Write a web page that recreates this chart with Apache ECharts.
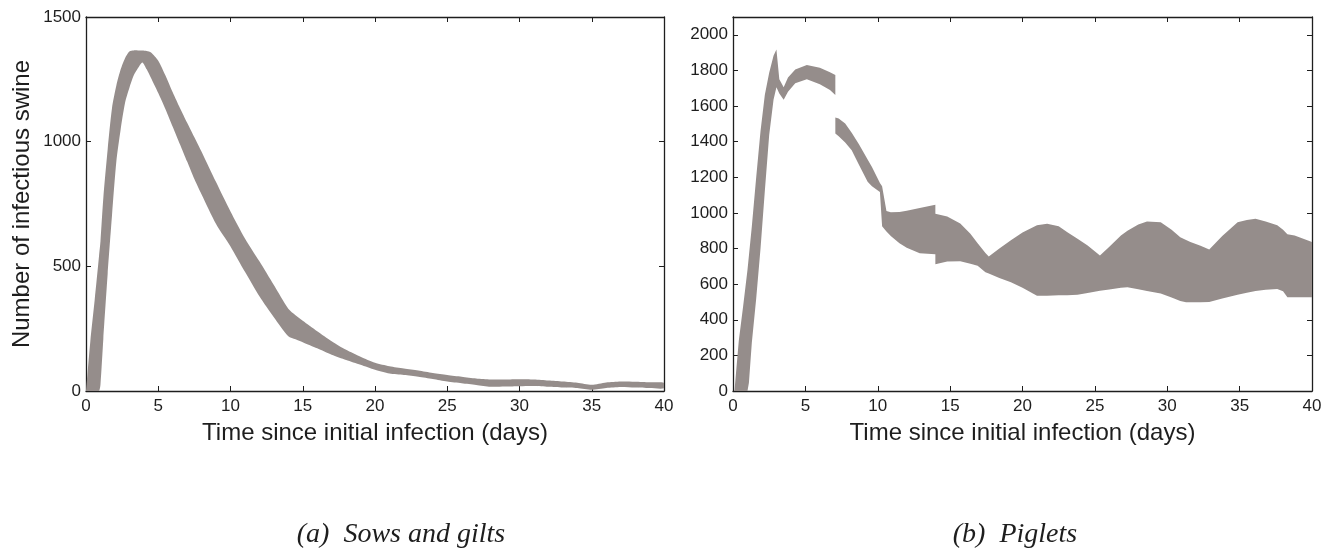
<!DOCTYPE html>
<html>
<head>
<meta charset="utf-8">
<script src="https://cdn.jsdelivr.net/npm/echarts@6/dist/echarts.min.js"></script>
<style>
  html, body { margin: 0; padding: 0; background: #fff; }
  #chart { width: 1330px; height: 551px; }
</style>
</head>
<body>
<div id="chart"></div>
<script>
// Sows and gilts: time (days) with the lower and upper envelope of infectious counts
const sowsDays  = [0, 0.3, 0.6, 0.9, 1.0, 1.2, 1.5, 1.8, 2.1, 2.4, 2.7, 3.0, 3.3, 3.6, 3.9, 4.2, 4.5, 5.0, 5.5, 6.0, 6.5, 7.0, 7.5, 8.0, 9.0, 10, 11, 12, 13, 14, 14.5, 15, 16, 17, 18, 19, 20, 21, 22, 23, 24, 25, 26, 27, 28, 29, 30, 31, 32, 33, 34, 35, 36, 37, 38, 39, 40];
const sowsLow   = [0, 0, 0, 0, 25, 210, 470, 705, 920, 1050, 1155, 1215, 1265, 1295, 1318, 1290, 1255, 1195, 1130, 1060, 990, 920, 850, 788, 670, 580, 478, 380, 296, 220, 208, 196, 171, 145, 124, 105, 85, 70, 64, 57, 48, 38, 31, 24, 17, 18, 19, 20, 17, 14, 12, 5, 12, 16, 14, 12, 11];
const sowsHigh  = [0, 200, 365, 540, 600, 775, 970, 1135, 1225, 1290, 1335, 1362, 1366, 1366, 1366, 1364, 1358, 1325, 1265, 1198, 1135, 1076, 1018, 960, 838, 720, 612, 520, 425, 330, 304, 282, 240, 200, 165, 137, 113, 99, 90, 82, 72, 64, 57, 50, 46, 46, 47, 46, 42, 38, 33, 25, 34, 38, 37, 35, 33];

// Piglets: repeated days mark the jumps at weaning
const pigDays   = [0, 0.1, 0.4, 0.7, 1.0, 1.1, 1.3, 1.6, 1.9, 2.2, 2.5, 2.8, 3.0, 3.2, 3.5, 3.8, 4.3, 5.1, 6.0, 6.7, 7.07, 7.07, 7.3, 7.75, 8.2, 8.7, 9.3, 9.6, 10.15, 10.3, 10.6, 10.9, 11.5, 12.0, 12.9, 13.98, 13.98, 14.8, 15.7, 16.4, 16.9, 17.44, 17.67, 18.4, 19.2, 20.0, 21.0, 21.7, 22.5, 23.1, 23.8, 24.5, 25.35, 26.0, 26.8, 27.25, 28.0, 28.6, 29.55, 30.3, 30.9, 31.3, 31.6, 32.3, 32.9, 33.8, 34.86, 35.5, 36.1, 36.8, 37.6, 38.0, 38.3, 38.8, 39.4, 40];
const pigLow    = [0, 0, 0, 0, 0, 46, 271, 516, 799, 1125, 1437, 1636, 1705, 1670, 1636, 1680, 1728, 1750, 1722, 1690, 1662, 1446, 1430, 1395, 1352, 1270, 1175, 1150, 1117, 925, 895, 870, 830, 805, 774, 768, 712, 727, 729, 714, 703, 667, 660, 635, 610, 580, 535, 535, 537, 538, 541, 550, 563, 570, 580, 582, 572, 562, 548, 525, 505, 498, 498, 498, 500, 520, 541, 552, 562, 568, 573, 560, 526, 526, 526, 526];
const pigHigh   = [0, 0, 282, 476, 679, 761, 924, 1197, 1459, 1664, 1787, 1883, 1918, 1750, 1705, 1760, 1805, 1831, 1815, 1790, 1775, 1536, 1530, 1502, 1450, 1386, 1300, 1258, 1168, 1150, 1010, 1003, 1005, 1012, 1028, 1046, 995, 980, 940, 883, 830, 775, 755, 800, 847, 890, 930, 939, 925, 892, 855, 817, 761, 810, 873, 900, 935, 952, 948, 905, 864, 848, 836, 815, 794, 870, 948, 960, 967, 952, 930, 905, 880, 873, 855, 836];

const xTicks = { min: 0, max: 40, interval: 5 };
const sowsY = { min: 0, max: 1500, interval: 500 };
const pigY = { min: 0, max: 2100, interval: 200 };

const xTitle = 'Time since initial infection (days)';
const yTitle = 'Number of infectious swine';
const captionA = '(a)  Sows and gilts';
const captionB = '(b)  Piglets';

const bandColor = '#958d8b';
const ink = '#1e1e1e';
const sans = 'Liberation Sans, Arial, sans-serif';

function rows(days, low, high) {
  return days.map((d, i) => [d, low[i], high[i]]);
}

// Draw the whole envelope as one polygon: upper edge forward, lower edge back
function bandRenderer(smooth) {
  return function (params, api) {
    if (params.dataIndexInside !== 0) return null;
    const n = params.dataInsideLength;
    const top = [], bottom = [];
    for (let i = 0; i < n; i++) {
      const x = api.value(0, i);
      top.push(api.coord([x, api.value(2, i)]));
      bottom.push(api.coord([x, api.value(1, i)]));
    }
    const points = top.concat(bottom.reverse());
    return {
      type: 'polygon',
      shape: { points: points, smooth: smooth },
      style: { fill: bandColor, stroke: null }
    };
  };
}

function frameAxis(extra) {
  return Object.assign({
    type: 'value',
    axisLine: { show: true, onZero: false, lineStyle: { color: ink, width: 1.3 } },
    axisTick: { show: true, inside: true, length: 5, lineStyle: { color: ink, width: 1 } },
    splitLine: { show: false }
  }, extra);
}

const plain = v => String(v);
const labelStyle = { color: ink, fontFamily: sans, fontSize: 17, formatter: plain };
const nameStyle = { color: ink, fontFamily: sans, fontSize: 24 };
const captionFont = 'italic 28px "Liberation Serif", "Times New Roman", serif';

const chart = echarts.init(document.getElementById('chart'), null, { renderer: 'canvas' });

chart.setOption({
  animation: false,
  backgroundColor: '#ffffff',
  grid: [
    { left: 86, top: 17, width: 578, height: 374 },
    { left: 733, top: 17, width: 579, height: 374 }
  ],
  xAxis: [
    frameAxis(Object.assign({ gridIndex: 0, position: 'bottom',
      axisLabel: Object.assign({ margin: 7 }, labelStyle),
      name: xTitle, nameLocation: 'middle', nameGap: 30, nameTextStyle: nameStyle }, xTicks)),
    frameAxis(Object.assign({ gridIndex: 0, position: 'top', axisLabel: { show: false } }, xTicks)),
    frameAxis(Object.assign({ gridIndex: 1, position: 'bottom',
      axisLabel: Object.assign({ margin: 7 }, labelStyle),
      name: xTitle, nameLocation: 'middle', nameGap: 30, nameTextStyle: nameStyle }, xTicks)),
    frameAxis(Object.assign({ gridIndex: 1, position: 'top', axisLabel: { show: false } }, xTicks))
  ],
  yAxis: [
    frameAxis(Object.assign({ gridIndex: 0, position: 'left',
      axisLabel: Object.assign({ margin: 5 }, labelStyle),
      name: yTitle, nameLocation: 'middle', nameGap: 52, nameTextStyle: nameStyle }, sowsY)),
    frameAxis(Object.assign({ gridIndex: 0, position: 'right', axisLabel: { show: false } }, sowsY)),
    frameAxis(Object.assign({ gridIndex: 1, position: 'left',
      axisLabel: Object.assign({ margin: 5, showMaxLabel: false }, labelStyle) }, pigY)),
    frameAxis(Object.assign({ gridIndex: 1, position: 'right', axisLabel: { show: false } }, pigY))
  ],
  series: [
    {
      name: 'Sows and gilts',
      type: 'custom',
      xAxisIndex: 0, yAxisIndex: 0,
      encode: { x: 0, y: [1, 2] },
      renderItem: bandRenderer(0.25),
      clip: true,
      data: rows(sowsDays, sowsLow, sowsHigh)
    },
    {
      name: 'Piglets',
      type: 'custom',
      xAxisIndex: 2, yAxisIndex: 2,
      encode: { x: 0, y: [1, 2] },
      renderItem: bandRenderer(0),
      clip: true,
      data: rows(pigDays, pigLow, pigHigh)
    }
  ],
  graphic: [
    { type: 'text', x: 401, y: 535, style: { text: captionA, fill: ink,
      font: captionFont, textAlign: 'center', textVerticalAlign: 'middle' } },
    { type: 'text', x: 1015, y: 535, style: { text: captionB, fill: ink,
      font: captionFont, textAlign: 'center', textVerticalAlign: 'middle' } }
  ]
});
</script>
</body>
</html>
